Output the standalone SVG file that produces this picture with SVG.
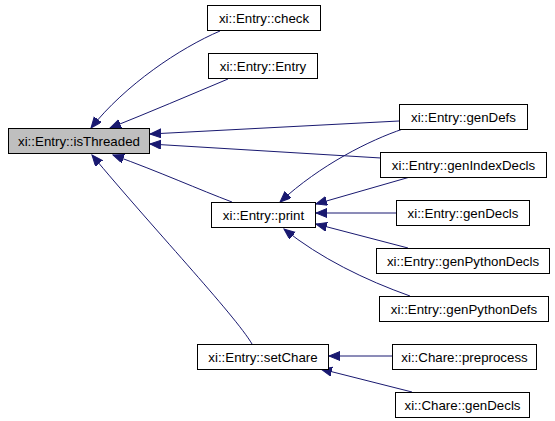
<svg xmlns="http://www.w3.org/2000/svg" width="555" height="421" viewBox="0 0 555 421">
<style>
.n rect{fill:#ffffff;stroke:#000000;stroke-width:1}
.n.root rect{fill:#bfbfbf}
.n text{font-family:"Liberation Sans",Arial,Helvetica,sans-serif;font-size:13.3px;fill:#000000;text-anchor:middle}
.e path{fill:none;stroke:#191970;stroke-width:1;marker-end:url(#ah)}
</style>
<defs>
<marker id="ah" markerUnits="userSpaceOnUse" markerWidth="12" markerHeight="10" refX="11" refY="4.5" orient="auto" viewBox="0 0 12 10">
<path d="M0,0 L11,4.5 L0,9 z" fill="#191970" stroke="#191970" stroke-width="1"/>
</marker>
</defs>
<rect width="555" height="421" fill="#ffffff"/>
<g id="edges" class="e">
<path d="M220,31 C180,48 125,85 91,128"/>
<path d="M228,79 C190,95 150,112 110,128"/>
<path d="M399,121 L150,134"/>
<path d="M381,158 L150,144"/>
<path d="M232,202 C200,190 160,172 113,155"/>
<path d="M252,344 C235,315 150,225 92,155"/>
<path d="M403,129 C370,140 320,165 280,202"/>
<path d="M410,177 L316,204"/>
<path d="M397,213 L316,213"/>
<path d="M408,248 L316,224"/>
<path d="M410,296 C365,280 320,258 284,229"/>
<path d="M392,356 L329,356"/>
<path d="M412,392 L321,369"/>
</g>
<g id="isThreaded" class="n root"><rect x="8.5" y="128.5" width="141" height="25"/><text x="79" y="146">xi::Entry::isThreaded</text></g>
<g id="check" class="n"><rect x="207.5" y="5.5" width="113" height="25"/><text x="264" y="23">xi::Entry::check</text></g>
<g id="Entry" class="n"><rect x="208.5" y="53.5" width="109" height="25"/><text x="263" y="71">xi::Entry::Entry</text></g>
<g id="print" class="n"><rect x="211.5" y="202.5" width="104" height="25"/><text x="263.5" y="220">xi::Entry::print</text></g>
<g id="setChare" class="n"><rect x="197.5" y="344.5" width="131" height="25"/><text x="263" y="362">xi::Entry::setChare</text></g>
<g id="genDefs" class="n"><rect x="399.5" y="104.5" width="128" height="25"/><text x="463.5" y="122">xi::Entry::genDefs</text></g>
<g id="genIndexDecls" class="n"><rect x="380.5" y="152.5" width="166" height="25"/><text x="463.5" y="170">xi::Entry::genIndexDecls</text></g>
<g id="genDecls" class="n"><rect x="396.5" y="200.5" width="133" height="25"/><text x="463" y="218">xi::Entry::genDecls</text></g>
<g id="genPythonDecls" class="n"><rect x="376.5" y="248.5" width="173" height="25"/><text x="463" y="266">xi::Entry::genPythonDecls</text></g>
<g id="genPythonDefs" class="n"><rect x="379.5" y="296.5" width="169" height="25"/><text x="464" y="314">xi::Entry::genPythonDefs</text></g>
<g id="preprocess" class="n"><rect x="392.5" y="344.5" width="144" height="25"/><text x="464.5" y="362">xi::Chare::preprocess</text></g>
<g id="chareGenDecls" class="n"><rect x="395.5" y="392.5" width="134" height="25"/><text x="462.5" y="410">xi::Chare::genDecls</text></g>
</svg>
